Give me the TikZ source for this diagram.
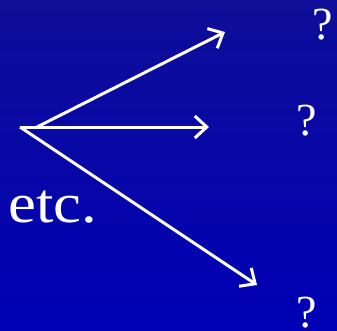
\documentclass[tikz,border=0pt]{standalone}
\usepackage{fontspec}
\setmainfont{Liberation Serif}
\usepackage{tikz}
\usetikzlibrary{arrows.meta,positioning}
\definecolor{slidetop}{HTML}{0E0E98}
\definecolor{slidebot}{HTML}{0000B6}

\begin{document}
\begin{tikzpicture}[x=1pt,y=1pt,
  arr/.style={draw=white,line width=3pt,-{Straight Barb[length=12pt,width=22pt,line width=3pt]}},
  qmark/.style={text=white,inner sep=0pt,anchor=base,font=\fontsize{46}{46}\selectfont},
  big/.style={text=white,inner sep=0pt,anchor=base west,font=\fontsize{56}{56}\selectfont}]
  \shade[top color=slidetop,bottom color=slidebot] (0,0) rectangle (337,330);
  \useasboundingbox (0,0) rectangle (337,330);
  % start point and arrow ends
  \coordinate (o) at (20,203);
  \coordinate (s) at (37,203);
  \coordinate (up) at (225,298);
  \coordinate (mid) at (209,203);
  \coordinate (low) at (257,45);
  \foreach \a/\b in {s/up,o/mid,o/low}
    \draw[arr] (\a) -- (\b);
  \node[qmark] (q1) at (323,290) {?};
  \node[qmark] (q2) at (307,195) {?};
  \node[qmark] (q3) at (307,3) {?};
  \node[big,xscale=1.12] (etc) at (8,108) {etc.};
\end{tikzpicture}
\end{document}
